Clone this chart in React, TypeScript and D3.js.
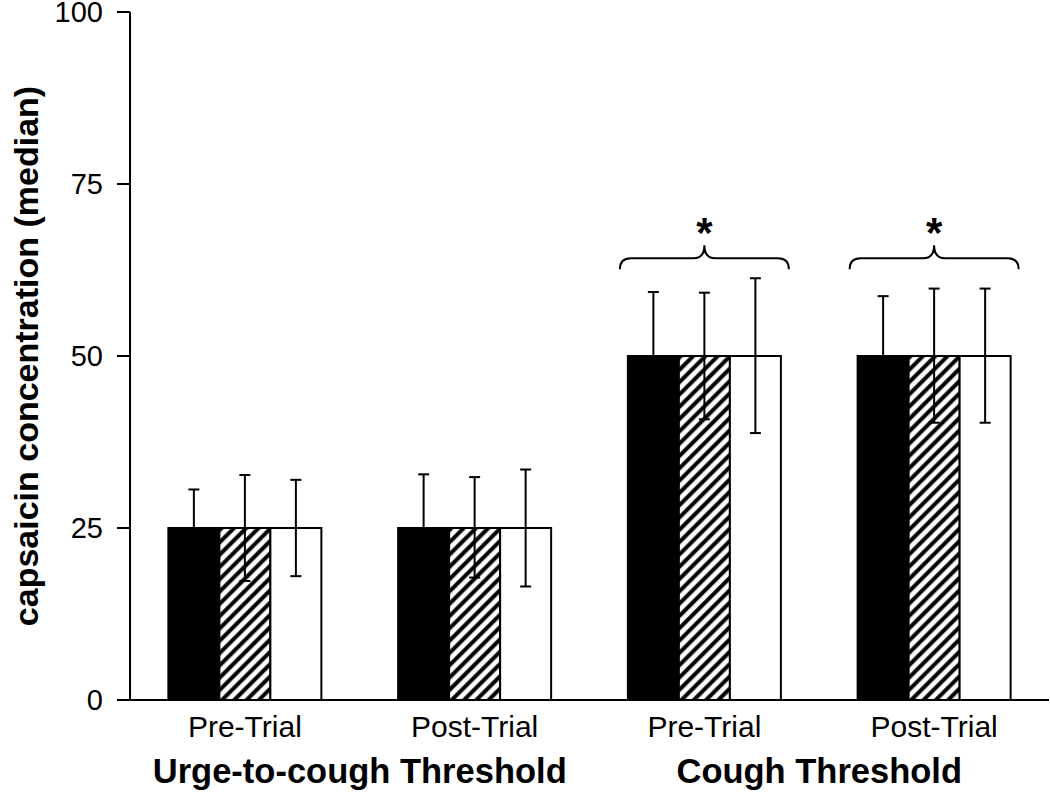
import React from "react";
import * as d3 from "d3";

const groups = ["Urge Pre", "Urge Post", "Cough Pre", "Cough Post"];
const groupLabels = ["Pre-Trial", "Post-Trial", "Pre-Trial", "Post-Trial"];
const thresholdLabels = ["Urge-to-cough Threshold", "Cough Threshold"];
const series = ["black", "hatched", "white"];
const medians = [
  [25, 25, 25],
  [25, 25, 25],
  [50, 50, 50],
  [50, 50, 50],
];
const upper = [
  [30.6, 32.7, 32.0],
  [32.8, 32.4, 33.5],
  [59.3, 59.2, 61.3],
  [58.7, 59.8, 59.8],
];
const lower = [
  [19.4, 17.3, 18.0],
  [17.2, 17.8, 16.5],
  [40.7, 40.8, 38.8],
  [41.3, 40.3, 40.3],
];
const yTicks = [0, 25, 50, 75, 100];
const significant = [false, false, true, true];

const W = 1050;
const H = 792;
const FONT = "'Liberation Sans', Arial, sans-serif";

export default function App() {
  const x0 = d3.scaleBand<string>().domain(groups).range([130, 1049]).paddingInner(0.334).paddingOuter(0.167);
  const x1 = d3.scaleBand<string>().domain(series).range([0, x0.bandwidth()]).padding(0);
  const y = d3.scaleLinear().domain([0, 100]).range([700, 12]);
  const bw = x1.bandwidth();

  const fills: Record<string, string> = { black: "#000", hatched: "url(#hatch)", white: "#fff" };

  const bracePath = (xa: number, xb: number, yb: number, ym: number, yp: number) => {
    const xc = (xa + xb) / 2;
    const r = 11;
    return `M${xa},${yb} Q${xa},${ym} ${xa + r},${ym} L${xc - r},${ym} Q${xc},${ym} ${xc},${yp} Q${xc},${ym} ${xc + r},${ym} L${xb - r},${ym} Q${xb},${ym} ${xb},${yb}`;
  };

  return (
    <svg width={W} height={H} style={{ position: "absolute", left: 0, top: 0, background: "#fff" }} fontFamily={FONT}>
      <defs>
        <pattern id="hatch" patternUnits="userSpaceOnUse" width={8.7} height={8.7} patternTransform="rotate(45)">
          <rect width={8.7} height={8.7} fill="#fff" />
          <line x1={2.2} y1={0} x2={2.2} y2={8.7} stroke="#000" strokeWidth={4} />
        </pattern>
      </defs>

      {/* bars */}
      {groups.map((g, gi) => (
        <g key={g} transform={`translate(${x0(g)},0)`}>
          {series.map((s, si) => (
            <rect
              key={s}
              x={x1(s)}
              y={y(medians[gi][si])}
              width={bw}
              height={y(0) - y(medians[gi][si])}
              fill={fills[s]}
              stroke="#000"
              strokeWidth={2}
            />
          ))}
          {series.map((s, si) => {
            const cx = (x1(s) as number) + bw / 2;
            return (
              <g key={"e" + s} stroke="#000" strokeWidth={2}>
                <line x1={cx} x2={cx} y1={y(upper[gi][si])} y2={y(lower[gi][si])} />
                <line x1={cx - 5.5} x2={cx + 5.5} y1={y(upper[gi][si])} y2={y(upper[gi][si])} />
                <line x1={cx - 5.5} x2={cx + 5.5} y1={y(lower[gi][si])} y2={y(lower[gi][si])} />
              </g>
            );
          })}
        </g>
      ))}

      {/* significance braces */}
      {groups.map((g, gi) =>
        significant[gi] ? (
          <g key={"b" + g}>
            <path
              d={bracePath((x0(g) as number) - 8, (x0(g) as number) + x0.bandwidth() + 8, y(62.6), y(64.2), y(66.1))}
              fill="none"
              stroke="#000"
              strokeWidth={2}
            />
            <text
              x={(x0(g) as number) + x0.bandwidth() / 2}
              y={y(66.1) + 2}
              textAnchor="middle"
              fontSize={42}
              fontWeight="bold"
            >
              *
            </text>
          </g>
        ) : null
      )}

      {/* axes */}
      <line x1={130} x2={1049} y1={y(0)} y2={y(0)} stroke="#000" strokeWidth={2} />
      <line x1={130} x2={130} y1={y(0)} y2={y(100)} stroke="#000" strokeWidth={2} />
      {yTicks.map((t) => (
        <g key={t}>
          <line x1={117} x2={130} y1={y(t)} y2={y(t)} stroke="#000" strokeWidth={2} />
          <text x={103} y={y(t)} dy="0.36em" textAnchor="end" fontSize={29}>
            {t}
          </text>
        </g>
      ))}

      {/* x labels */}
      {groups.map((g, gi) => (
        <text key={"l" + g} x={(x0(g) as number) + x0.bandwidth() / 2} y={737} textAnchor="middle" fontSize={30}>
          {groupLabels[gi]}
        </text>
      ))}
      {thresholdLabels.map((l, i) => {
        const a = (x0(groups[i * 2]) as number) + x0.bandwidth() / 2;
        const b = (x0(groups[i * 2 + 1]) as number) + x0.bandwidth() / 2;
        return (
          <text key={l} x={(a + b) / 2} y={783} textAnchor="middle" fontSize={34.5} fontWeight="bold">
            {l}
          </text>
        );
      })}

      {/* y label */}
      <text
        transform={`translate(38,${y(50)}) rotate(-90)`}
        textAnchor="middle"
        fontSize={34}
        fontWeight="bold"
      >
        capsaicin concentration (median)
      </text>
    </svg>
  );
}
